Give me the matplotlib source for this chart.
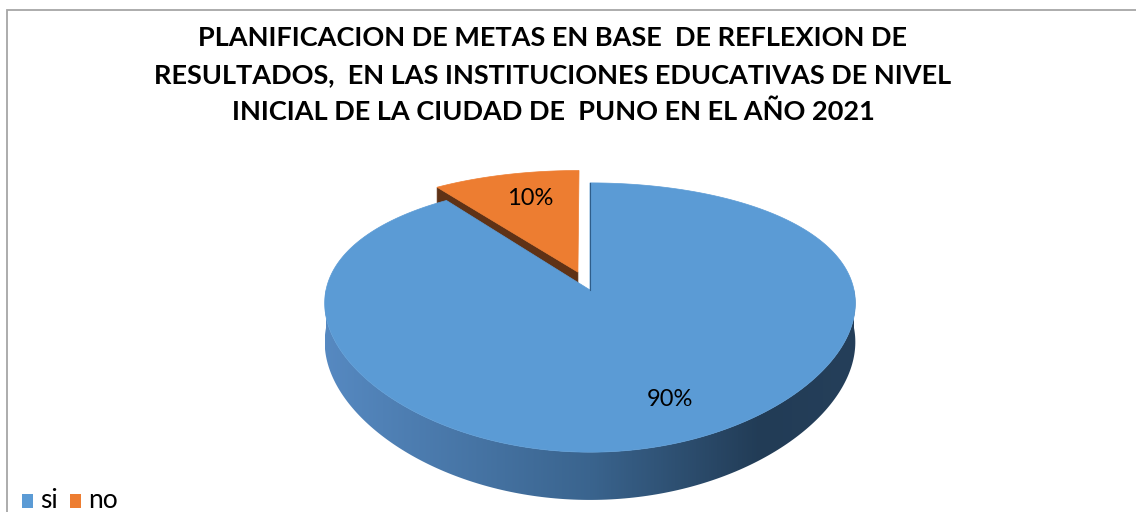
import numpy as np
import matplotlib
matplotlib.use("Agg")
import matplotlib.pyplot as plt
from matplotlib.patches import Polygon, Rectangle
from matplotlib.colors import LinearSegmentedColormap

# ---- data ----
categories = ["si", "no"]
values = [90, 10]
labels = ["90%", "10%"]
colors = ["#5B9BD5", "#ED7D31"]
title_lines = [
    "PLANIFICACION DE METAS EN BASE  DE REFLEXION DE",
    "RESULTADOS,  EN LAS INSTITUCIONES EDUCATIVAS DE NIVEL",
    "INICIAL DE LA CIUDAD DE  PUNO EN EL AÑO 2021",
]

W, H = 1136, 512
fig = plt.figure(figsize=(W / 100, H / 100), dpi=100)
ax = fig.add_axes([0, 0, 1, 1])
ax.set_xlim(0, W)
ax.set_ylim(H, 0)
ax.axis("off")

# ---- 3D projection parameters (pixel space) ----
cx, cy = 590, 290
R, b = 264, 129
px_, py_ = 0.10, 0.2045
thick = 38
explode = 0.15


def proj(x, y, z=0.0):
    sx = 1.0 / (1.0 + px_ * y)
    sy = 1.0 / (1.0 + py_ * y)
    return cx + R * x * sx, cy - b * y * sy + thick * z * sy


def arc(t0, t1, off=(0, 0), z=0.0, n=200):
    t = np.radians(np.linspace(t0, t1, n))
    return [proj(np.cos(a) + off[0], np.sin(a) + off[1], z) for a in t]


total = sum(values)
fracs = [v / total for v in values]
no_start = 90.0
no_end = 90.0 + 360 * fracs[1]
si_start = no_end
si_end = 90.0 + 360.0

mid_no = np.radians((no_start + no_end) / 2)
off_no = (explode * np.cos(mid_no), explode * np.sin(mid_no))

# --- orange slice: visible radial side face ---
c_top = proj(off_no[0], off_no[1], 0)
c_bot = proj(off_no[0], off_no[1], 1)
e = np.radians(no_end)
r_top = proj(np.cos(e) + off_no[0], np.sin(e) + off_no[1], 0)
r_bot = proj(np.cos(e) + off_no[0], np.sin(e) + off_no[1], 1)
ax.add_patch(Polygon([c_top, r_top, r_bot, c_bot], closed=True,
                     facecolor="#5F3216", edgecolor="#5F3216", lw=0.5, zorder=2))
pts = [c_top] + arc(no_start, no_end, off_no) + [c_top]
ax.add_patch(Polygon(pts, closed=True, facecolor=colors[1], edgecolor=colors[1],
                     lw=0.5, zorder=3))

# --- blue side wall with gradient ---
top = arc(180, 360, z=0)
bot = arc(360, 180, z=1)
side = Polygon(top + bot, closed=True, facecolor="none", edgecolor="none", zorder=4)
ax.add_patch(side)
cmap = LinearSegmentedColormap.from_list(
    "side",
    [(0.0, (86 / 255, 137 / 255, 193 / 255)),
     (0.5, (58 / 255, 100 / 255, 142 / 255)),
     (0.82, (34 / 255, 60 / 255, 86 / 255)),
     (1.0, (37 / 255, 63 / 255, 90 / 255))])
grad = np.linspace(0, 1, 512).reshape(1, -1)
xs = [p[0] for p in top + bot]
ys = [p[1] for p in top + bot]
im = ax.imshow(grad, cmap=cmap, aspect="auto",
               extent=(min(xs), max(xs), max(ys), min(ys)), zorder=4,
               interpolation="bilinear")
im.set_clip_path(side)

# --- blue top face ---
c0 = proj(0, 0, 0)
pts = [c0] + arc(si_start, si_end, n=600) + [c0]
ax.add_patch(Polygon(pts, closed=True, facecolor=colors[0], edgecolor=colors[0],
                     lw=0.5, zorder=5))
ax.plot([c0[0], proj(0, 1)[0]], [c0[1], proj(0, 1)[1]], color="#2F5D8A",
        lw=0.8, zorder=6)

# ---- data labels ----
lab_r = 0.75
mid_si = np.radians((si_start + si_end) / 2)
lx, ly = proj(lab_r * np.cos(mid_si), lab_r * np.sin(mid_si))
ax.text(lx + 14, ly + 2, labels[0], ha="center", va="center", fontsize=17,
        family="Lato", color="#000000", zorder=7)
lx, ly = proj((lab_r + explode) * np.cos(mid_no), (lab_r + explode) * np.sin(mid_no))
ax.text(lx + 8, ly + 2, labels[1], ha="center", va="center", fontsize=17,
        family="Lato", color="#000000", zorder=7)

# ---- title ----
for i, line in enumerate(title_lines):
    ax.text(553, 38 + 37 * i, line, ha="center", va="center", fontsize=19.5,
            fontweight="bold", family="Lato", color="#000000")

# ---- legend ----
ax.add_patch(Rectangle((22, 494), 11, 14, facecolor=colors[0], edgecolor="none"))
ax.text(40, 501, categories[0], ha="left", va="center", fontsize=19, family="Lato")
ax.add_patch(Rectangle((70, 494), 11, 14, facecolor=colors[1], edgecolor="none"))
ax.text(88, 501, categories[1], ha="left", va="center", fontsize=19, family="Lato")

# ---- chart border ----
ax.plot([6.5, 6.5, W + 5], [H + 5, 9.5, 9.5], color="#A6A6A6", lw=1.3,
        solid_joinstyle="miter")

fig.savefig("out.png", dpi=100, facecolor="white")
